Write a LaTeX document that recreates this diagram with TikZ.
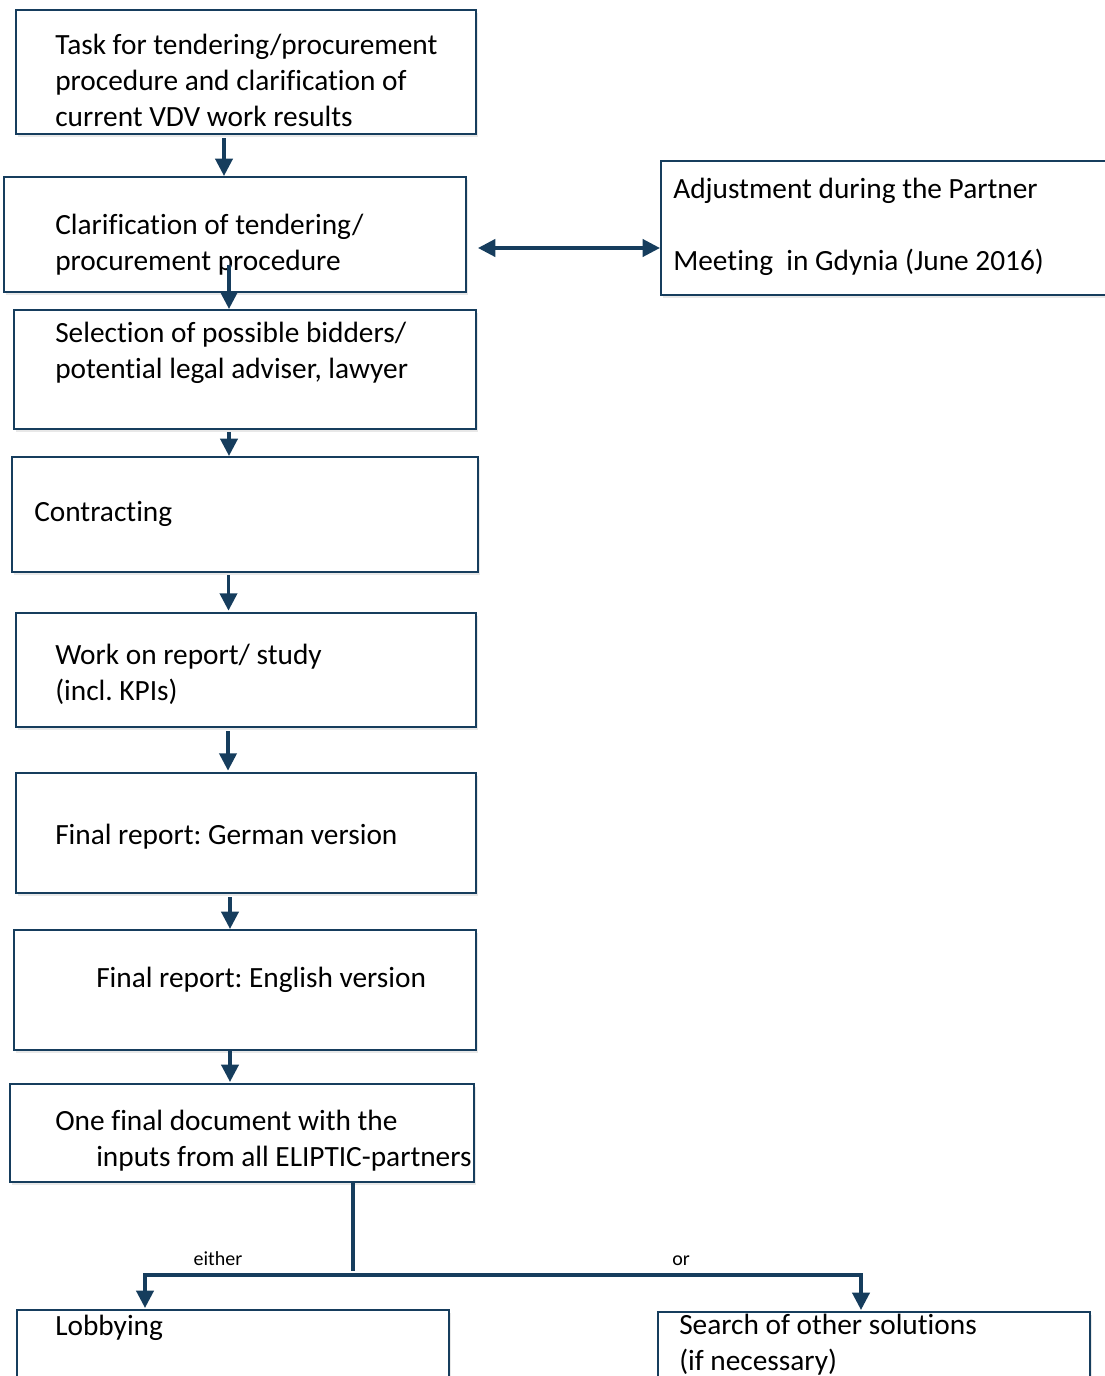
\documentclass[tikz,border=0pt]{standalone}
\usepackage{fontspec}
\setmainfont{Carlito}[Ligatures=NoCommon]
\frenchspacing
\usetikzlibrary{arrows.meta,fit,shadows}
\definecolor{navy}{RGB}{22,61,93}
\begin{document}
\begin{tikzpicture}[x=0.75pt,y=-0.75pt,
  box/.style={draw=navy,line width=1.6pt,fill=white,inner sep=0pt,
    drop shadow={shadow xshift=1.5pt,shadow yshift=-2pt,opacity=0.18,fill=gray}},
  txt/.style={anchor=base west,align=left,inner sep=0pt,font=\fontsize{22pt}{27pt}\selectfont},
  lbl/.style={anchor=base,inner sep=0pt,font=\fontsize{15pt}{18pt}\selectfont},
  arr/.style={draw=navy,line width=2.4pt,-{Triangle[width=13pt,length=13pt]}},
  dbl/.style={draw=navy,line width=2.4pt,{Triangle[width=13pt,length=13pt]}-{Triangle[width=13pt,length=13pt]}},
  ln/.style={draw=navy,line width=2.4pt}]
\useasboundingbox (0,0) rectangle (1104,1376);
% boxes
\node[box,fit={(16,10) (476,134)}] (b1) {};
\node[box,fit={(4,177) (466,292)}] (b2) {};
\node[box,fit={(661,161) (1112,295)}] (b3) {};
\node[box,fit={(14,310) (476,429)}] (b4) {};
\node[box,fit={(12,457) (478,572)}] (b5) {};
\node[box,fit={(16,613) (476,727)}] (b6) {};
\node[box,fit={(16,773) (476,893)}] (b7) {};
\node[box,fit={(14,930) (476,1050)}] (b8) {};
\node[box,fit={(10,1084) (474,1182)}] (b9) {};
\node[box,fit={(17,1310) (449,1400)}] (b10) {};
\node[box,fit={(658,1312) (1090,1400)}] (b11) {};
% texts (anchor = baseline of last line)
\node[txt] (t1) at (55,127) {Task for tendering/procurement\\procedure and clarification of\\current VDV work results};
\node[txt] (t2) at (55,271) {Clarification of tendering/\\procurement procedure};
\node[txt] (t3) at (673,271) {Adjustment during the Partner\\[27pt]Meeting\ \ in Gdynia (June 2016)};
\node[txt] (t4) at (55,378) {Selection of possible bidders/\\potential legal adviser, lawyer};
\node[txt] (t5) at (34,521) {Contracting};
\node[txt] (t6) at (55,700) {Work on report/ study\\(incl. KPIs)};
\node[txt] (t7) at (55,844) {Final report: German version};
\node[txt] (t8) at (96,987) {Final report: English version};
\node[txt] (t9) at (55,1166) {One final document with the\\\hspace*{30.75pt}inputs from all ELIPTIC-partners};
\node[txt] (t10) at (55,1335) {Lobbying};
\node[txt] (t11) at (679,1370) {Search of other solutions\\(if necessary)};
\node[lbl] (either) at (218,1265) {either};
\node[lbl] (or) at (681,1265) {or};
% connector coordinates
\coordinate (x1) at (224,0);
\coordinate (s2) at (229,265);
\coordinate (x3) at (229,0);
\coordinate (x4) at (228.5,0);
\coordinate (x5) at (228,0);
\coordinate (x6) at (230,0);
\coordinate (da) at (478,248);
\coordinate (x9) at (353,0);
\coordinate (vj) at (353,1271);
\coordinate (cl) at (145,1275);
\coordinate (cr) at (861,1275);
% connectors
\draw[arr] ([yshift=-2.25pt]b1.south -| x1) -- (b2.north -| x1);
\draw[arr] (s2) -- (b4.north -| s2);
\draw[arr] ([yshift=-1.5pt]b4.south -| x3) -- (b5.north -| x3);
\draw[arr] ([yshift=-1.5pt]b5.south -| x4) -- ([yshift=1pt]b6.north -| x4);
\draw[arr] ([yshift=-2.25pt]b6.south -| x5) -- ([yshift=1pt]b7.north -| x5);
\draw[arr] ([yshift=-2.25pt]b7.south -| x6) -- (b8.north -| x6);
\draw[arr] (b8.south -| x6) -- ([yshift=0.75pt]b9.north -| x6);
\draw[dbl] (da) -- (b3.west |- da);
\draw[ln] (b9.south -| x9) -- (vj);
\draw[dbl] ([yshift=0.75pt]b10.north -| cl) -- (cl) -- (cr) -- ([yshift=0.75pt]b11.north -| cr);
\end{tikzpicture}
\end{document}
